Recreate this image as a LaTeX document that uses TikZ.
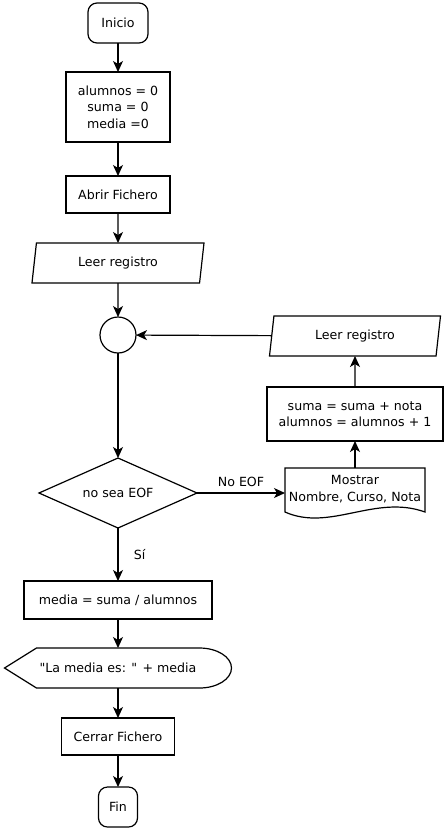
\documentclass[tikz,border=0pt]{standalone}
\usepackage{fontspec}
\setmainfont{DejaVu Sans}
\usetikzlibrary{positioning,shapes.geometric,arrows.meta}

\begin{document}
\begin{tikzpicture}[font=\fontsize{12.6}{16.5}\selectfont]
      \tikzstyle{term}=[rectangle, rounded corners=9pt, minimum width=60pt, minimum height=40pt, inner sep=0pt, outer sep=0pt, line width=1.2pt, draw=black]
      \tikzstyle{proc}=[rectangle, inner sep=0pt, outer sep=0pt, line width=1.2pt, draw=black, align=center]
      \tikzstyle{io}=[trapezium, trapezium left angle=70, trapezium right angle=110, trapezium stretches body, minimum width=172pt, minimum height=40pt, inner sep=0pt, outer sep=0pt, line width=1.2pt, draw=black]
      \tikzstyle{junction}=[circle, minimum size=36pt, inner sep=0pt, outer sep=0pt, line width=1.2pt, draw=black]
      \tikzstyle{decision}=[diamond, shape aspect=2.26, minimum width=158pt, minimum height=70pt, inner sep=0pt, outer sep=0pt, line width=1.2pt, draw=black]
      \tikzstyle{outline}=[line width=1.2pt, draw=black]
      \tikzstyle{connect}=[-{Stealth[length=11pt, width=10pt, inset=3pt]}, line width=1.2pt]

      \useasboundingbox (-118pt,23pt) rectangle (327pt,-806pt);

      % main column
      \node[term] (ini) {Inicio};
      \node[proc, minimum width=104pt, minimum height=70pt] (init) [below=29pt of ini] {alumnos = 0\\suma = 0\\media =0};
      \node[proc, minimum width=104pt, minimum height=37pt] (abrir) [below=34pt of init] {Abrir Fichero};
      \node[io] (leer) [below=30pt of abrir] {Leer registro};
      \node[junction] (cruce) [below=34pt of leer] {};
      \node[decision] (eof) [below=105pt of cruce] {no sea EOF};
      \node[proc, minimum width=188pt, minimum height=38pt] (media) [below=53pt of eof] {media = suma / alumnos};
      \node[minimum width=227pt, minimum height=40pt, inner sep=0pt, outer sep=0pt] (salida) [below=29pt of media] {\textquotedbl La media es: \textquotedbl{} + media};
      \node[proc, minimum width=113pt, minimum height=37pt] (cerrar) [below=30pt of salida] {Cerrar Fichero};
      \node[term, minimum width=39pt] (fin) [below=32pt of cerrar] {Fin};

      % loop
      \node[minimum width=140pt, minimum height=42pt, inner sep=0pt, outer sep=0pt, align=center] (mostrar) [right=88pt of eof, yshift=4pt] {Mostrar\\Nombre, Curso, Nota};
      \node[proc, minimum width=176pt, minimum height=54pt] (suma) [above=27pt of mostrar] {suma = suma + nota\\alumnos = alumnos + 1};
      \node[io, minimum width=171pt] (leer2) [above=31pt of suma] {Leer registro};

      % outlines
      \draw[outline] (salida.west) -- ([xshift=32pt]salida.north west) -- ([xshift=-32pt]salida.north east)
        arc[start angle=90, end angle=-90, x radius=32pt, y radius=20pt] -- ([xshift=32pt]salida.south west) -- cycle;
      \draw[outline] (mostrar.north west) -- ([yshift=-2pt]mostrar.south west)
        .. controls +(45pt,-20pt) and +(-50pt,18pt) .. ([yshift=-2pt]mostrar.south east) -- (mostrar.north east) -- cycle;

      \path (ini) edge [connect] (init)
        (init) edge [connect] (abrir)
        (abrir) edge [connect] (leer)
        (leer) edge [connect] (cruce)
        (cruce) edge [connect] (eof)
        (eof) edge [connect] node[right=12pt] {Sí} (media)
        (media) edge [connect] (salida)
        (salida) edge [connect] (cerrar)
        (cerrar) edge [connect] (fin);

      \path (eof) edge [connect] node[above=2pt] {No EOF} (eof -| mostrar.west)
        (mostrar) edge [connect] (suma)
        (suma) edge [connect] (leer2)
        (leer2) edge [connect] (cruce);

    \end{tikzpicture}
\end{document}
